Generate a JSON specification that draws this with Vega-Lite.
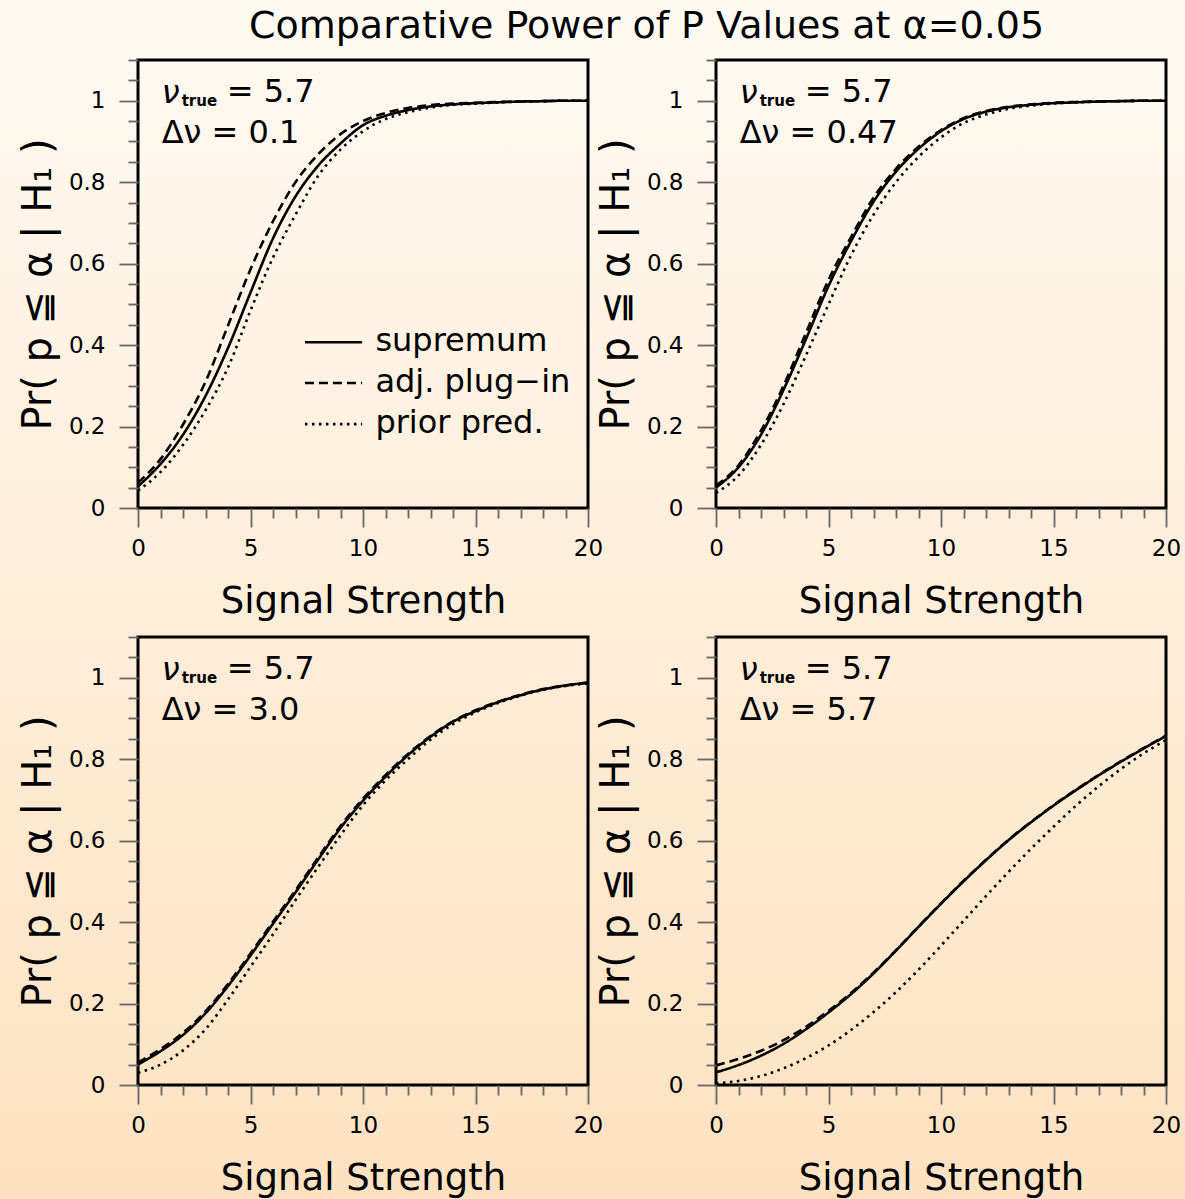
{
"$schema":"https://vega.github.io/schema/vega-lite/v6.json",
"background":"#FFFAF2",
"padding":{"left":0,"top":8,"right":0,"bottom":0},
"title":{"text":"Comparative Power of P Values at α=0.05","fontSize":38,"fontWeight":"normal","font":"DejaVu Sans","color":"#000","anchor":"middle","offset":3,"dx":49,"zindex":1},
"datasets":{
"curves":[
{"panel":"a","s":0,"sup":0.053,"adj":0.062,"pri":0.043},
{"panel":"a","s":1,"sup":0.108,"adj":0.12,"pri":0.088},
{"panel":"a","s":2,"sup":0.18,"adj":0.205,"pri":0.155},
{"panel":"a","s":3,"sup":0.275,"adj":0.31,"pri":0.24},
{"panel":"a","s":4,"sup":0.393,"adj":0.448,"pri":0.345},
{"panel":"a","s":5,"sup":0.529,"adj":0.586,"pri":0.485},
{"panel":"a","s":6,"sup":0.662,"adj":0.704,"pri":0.615},
{"panel":"a","s":7,"sup":0.765,"adj":0.8,"pri":0.72},
{"panel":"a","s":8,"sup":0.84,"adj":0.868,"pri":0.815},
{"panel":"a","s":9,"sup":0.895,"adj":0.918,"pri":0.88},
{"panel":"a","s":10,"sup":0.94,"adj":0.95,"pri":0.925},
{"panel":"a","s":11,"sup":0.963,"adj":0.97,"pri":0.955},
{"panel":"a","s":12,"sup":0.977,"adj":0.982,"pri":0.972},
{"panel":"a","s":13,"sup":0.986,"adj":0.989,"pri":0.983},
{"panel":"a","s":14,"sup":0.991,"adj":0.993,"pri":0.99},
{"panel":"a","s":15,"sup":0.994,"adj":0.995,"pri":0.993},
{"panel":"a","s":16,"sup":0.996,"adj":0.997,"pri":0.996},
{"panel":"a","s":17,"sup":0.998,"adj":0.998,"pri":0.998},
{"panel":"a","s":18,"sup":0.999,"adj":0.999,"pri":0.999},
{"panel":"a","s":19,"sup":1,"adj":1,"pri":1},
{"panel":"a","s":20,"sup":1,"adj":1,"pri":1},
{"panel":"b","s":0,"sup":0.05,"adj":0.055,"pri":0.037},
{"panel":"b","s":1,"sup":0.1,"adj":0.105,"pri":0.08},
{"panel":"b","s":2,"sup":0.18,"adj":0.19,"pri":0.155},
{"panel":"b","s":3,"sup":0.29,"adj":0.3,"pri":0.255},
{"panel":"b","s":4,"sup":0.415,"adj":0.43,"pri":0.375},
{"panel":"b","s":5,"sup":0.545,"adj":0.56,"pri":0.5},
{"panel":"b","s":6,"sup":0.655,"adj":0.665,"pri":0.62},
{"panel":"b","s":7,"sup":0.752,"adj":0.762,"pri":0.72},
{"panel":"b","s":8,"sup":0.826,"adj":0.833,"pri":0.8},
{"panel":"b","s":9,"sup":0.882,"adj":0.887,"pri":0.862},
{"panel":"b","s":10,"sup":0.925,"adj":0.928,"pri":0.91},
{"panel":"b","s":11,"sup":0.955,"adj":0.957,"pri":0.945},
{"panel":"b","s":12,"sup":0.973,"adj":0.975,"pri":0.966},
{"panel":"b","s":13,"sup":0.984,"adj":0.985,"pri":0.98},
{"panel":"b","s":14,"sup":0.99,"adj":0.991,"pri":0.988},
{"panel":"b","s":15,"sup":0.994,"adj":0.995,"pri":0.993},
{"panel":"b","s":16,"sup":0.996,"adj":0.997,"pri":0.996},
{"panel":"b","s":17,"sup":0.998,"adj":0.998,"pri":0.998},
{"panel":"b","s":18,"sup":0.999,"adj":0.999,"pri":0.999},
{"panel":"b","s":19,"sup":1,"adj":1,"pri":1},
{"panel":"b","s":20,"sup":1,"adj":1,"pri":1},
{"panel":"c","s":0,"sup":0.05,"adj":0.055,"pri":0.03},
{"panel":"c","s":1,"sup":0.083,"adj":0.088,"pri":0.05},
{"panel":"c","s":2,"sup":0.123,"adj":0.128,"pri":0.085},
{"panel":"c","s":3,"sup":0.176,"adj":0.181,"pri":0.137},
{"panel":"c","s":4,"sup":0.243,"adj":0.248,"pri":0.21},
{"panel":"c","s":5,"sup":0.318,"adj":0.323,"pri":0.29},
{"panel":"c","s":6,"sup":0.396,"adj":0.401,"pri":0.37},
{"panel":"c","s":7,"sup":0.473,"adj":0.478,"pri":0.454},
{"panel":"c","s":8,"sup":0.553,"adj":0.558,"pri":0.535},
{"panel":"c","s":9,"sup":0.631,"adj":0.636,"pri":0.613},
{"panel":"c","s":10,"sup":0.698,"adj":0.703,"pri":0.687},
{"panel":"c","s":11,"sup":0.757,"adj":0.761,"pri":0.748},
{"panel":"c","s":12,"sup":0.81,"adj":0.813,"pri":0.8},
{"panel":"c","s":13,"sup":0.855,"adj":0.857,"pri":0.848},
{"panel":"c","s":14,"sup":0.892,"adj":0.893,"pri":0.886},
{"panel":"c","s":15,"sup":0.918,"adj":0.92,"pri":0.915},
{"panel":"c","s":16,"sup":0.94,"adj":0.941,"pri":0.938},
{"panel":"c","s":17,"sup":0.957,"adj":0.958,"pri":0.956},
{"panel":"c","s":18,"sup":0.971,"adj":0.972,"pri":0.97},
{"panel":"c","s":19,"sup":0.981,"adj":0.981,"pri":0.98},
{"panel":"c","s":20,"sup":0.988,"adj":0.988,"pri":0.986},
{"panel":"d","s":0,"sup":0.031,"adj":0.048,"pri":0.004},
{"panel":"d","s":1,"sup":0.049,"adj":0.064,"pri":0.01},
{"panel":"d","s":2,"sup":0.072,"adj":0.084,"pri":0.022},
{"panel":"d","s":3,"sup":0.101,"adj":0.11,"pri":0.041},
{"panel":"d","s":4,"sup":0.137,"adj":0.143,"pri":0.066},
{"panel":"d","s":5,"sup":0.178,"adj":0.182,"pri":0.097},
{"panel":"d","s":6,"sup":0.223,"adj":0.226,"pri":0.135},
{"panel":"d","s":7,"sup":0.274,"adj":0.276,"pri":0.179},
{"panel":"d","s":8,"sup":0.33,"adj":0.331,"pri":0.228},
{"panel":"d","s":9,"sup":0.388,"adj":0.389,"pri":0.283},
{"panel":"d","s":10,"sup":0.445,"adj":0.446,"pri":0.342},
{"panel":"d","s":11,"sup":0.5,"adj":0.501,"pri":0.403},
{"panel":"d","s":12,"sup":0.552,"adj":0.553,"pri":0.464},
{"panel":"d","s":13,"sup":0.601,"adj":0.602,"pri":0.523},
{"panel":"d","s":14,"sup":0.645,"adj":0.646,"pri":0.58},
{"panel":"d","s":15,"sup":0.686,"adj":0.687,"pri":0.634},
{"panel":"d","s":16,"sup":0.724,"adj":0.725,"pri":0.686},
{"panel":"d","s":17,"sup":0.76,"adj":0.761,"pri":0.733},
{"panel":"d","s":18,"sup":0.794,"adj":0.795,"pri":0.776},
{"panel":"d","s":19,"sup":0.826,"adj":0.827,"pri":0.814},
{"panel":"d","s":20,"sup":0.857,"adj":0.858,"pri":0.847}
],
"notes":[
{"panel":"a","nu":"ν","sub":"true","eq":"= 5.7","dnu":"Δν = 0.1"},
{"panel":"b","nu":"ν","sub":"true","eq":"= 5.7","dnu":"Δν = 0.47"},
{"panel":"c","nu":"ν","sub":"true","eq":"= 5.7","dnu":"Δν = 3.0"},
{"panel":"d","nu":"ν","sub":"true","eq":"= 5.7","dnu":"Δν = 5.7"}
],
"legend":[
{"key":"sup","label":"supremum"},
{"key":"adj","label":"adj. plug−in"},
{"key":"pri","label":"prior pred."}
]
},
"data":{"name":"curves"},
"concat":[
{"width":450,"height":448,
 "resolve":{"axis":{"x":"independent","y":"independent"}},
 "layer":[
  {"data":{"name":"notes"},"transform":[{"filter":"datum.panel==='a'"}],"mark":{"type":"rect","clip":false,"zindex":0,"fill":{"gradient":"linear","x1":0,"y1":0,"x2":0,"y2":1,"stops":[{"offset":0,"color":"#FFF9F0"},{"offset":1,"color":"#FEEDD8"}]}},"encoding":{"x":{"datum":-6.1333,"axis":null},"x2":{"datum":20.622},"y":{"datum":1.1172,"axis":null},"y2":{"datum":-0.2922}}},
  {"transform":[{"filter":"datum.panel==='a'"},{"fold":["sup","adj","pri"],"as":["series","p"]}],
   "mark":{"type":"line","interpolate":"monotone","strokeWidth":2.6,"color":"#000","clip":true},
   "encoding":{
    "x":{"field":"s","type":"quantitative","scale":{"domain":[0,20],"nice":false,"zero":false},"axis":{"zindex":2,"title":"Signal Strength","values":[0,1,2,3,4,5,6,7,8,9,10,11,12,13,14,15,16,17,18,19,20],"labelExpr":"datum.value % 5 === 0 ? datum.label : ''","tickSize":{"condition":{"test":"datum.value % 5 === 0","value":19},"value":10},"labelPadding":10,"titlePadding":23,"labelOverlap":false}},
    "y":{"field":"p","type":"quantitative","scale":{"domain":[0,1.1],"nice":false},"axis":{"zindex":2,"title":"Pr( p ≦ α | H₁ )","values":[0,0.05,0.1,0.15,0.2,0.25,0.3,0.35,0.4,0.45,0.5,0.55,0.6,0.65,0.7,0.75,0.8,0.85,0.9,0.95,1,1.05,1.1],"labelExpr":"abs(datum.value*5-round(datum.value*5))<0.000001 ? format(datum.value,'~g') : ''","tickSize":{"condition":{"test":"abs(datum.value*5-round(datum.value*5))<0.000001","value":19},"value":10},"labelPadding":14,"titlePadding":10,"labelOverlap":false}},
    "strokeDash":{"field":"series","type":"nominal","scale":{"domain":["sup","adj","pri"],"range":[[1,0],[9,5],[2.5,4.5]]},"legend":null}}},
  {"data":{"name":"notes"},"transform":[{"filter":"datum.panel==='a'"}],"mark":{"type":"text","align":"left","baseline":"alphabetic","fontSize":32,"fontStyle":"italic"},"encoding":{"x":{"datum":1.05,"axis":null},"y":{"datum":0.995,"axis":null},"text":{"field":"nu"}}},
  {"data":{"name":"notes"},"transform":[{"filter":"datum.panel==='a'"}],"mark":{"type":"text","align":"left","baseline":"alphabetic","fontSize":15,"fontWeight":"bold"},"encoding":{"x":{"datum":1.94,"axis":null},"y":{"datum":0.988,"axis":null},"text":{"field":"sub"}}},
  {"data":{"name":"notes"},"transform":[{"filter":"datum.panel==='a'"}],"mark":{"type":"text","align":"left","baseline":"alphabetic","fontSize":32},"encoding":{"x":{"datum":3.94,"axis":null},"y":{"datum":0.997,"axis":null},"text":{"field":"eq"}}},
  {"data":{"name":"notes"},"transform":[{"filter":"datum.panel==='a'"}],"mark":{"type":"text","align":"left","baseline":"alphabetic","fontSize":32},"encoding":{"x":{"datum":1.05,"axis":null},"y":{"datum":0.897,"axis":null},"text":{"field":"dnu"}}},
  {"data":{"name":"legend"},"transform":[{"filter":"datum.key==='sup'"}],"mark":{"type":"rule","strokeWidth":2.6,"color":"#000"},"encoding":{"x":{"datum":7.42,"axis":null},"x2":{"datum":9.96},"y":{"datum":0.407,"axis":null},"strokeDash":{"field":"key","type":"nominal","legend":null}}},
  {"data":{"name":"legend"},"transform":[{"filter":"datum.key==='adj'"}],"mark":{"type":"rule","strokeWidth":2.6,"color":"#000"},"encoding":{"x":{"datum":7.42,"axis":null},"x2":{"datum":9.96},"y":{"datum":0.307,"axis":null},"strokeDash":{"field":"key","type":"nominal","legend":null}}},
  {"data":{"name":"legend"},"transform":[{"filter":"datum.key==='pri'"}],"mark":{"type":"rule","strokeWidth":2.6,"color":"#000"},"encoding":{"x":{"datum":7.42,"axis":null},"x2":{"datum":9.96},"y":{"datum":0.206,"axis":null},"strokeDash":{"field":"key","type":"nominal","legend":null}}},
  {"data":{"name":"legend"},"transform":[{"filter":"datum.key==='sup'"}],"mark":{"type":"text","align":"left","baseline":"middle","fontSize":32},"encoding":{"x":{"datum":10.55,"axis":null},"y":{"datum":0.41,"axis":null},"text":{"field":"label"}}},
  {"data":{"name":"legend"},"transform":[{"filter":"datum.key==='adj'"}],"mark":{"type":"text","align":"left","baseline":"middle","fontSize":32},"encoding":{"x":{"datum":10.55,"axis":null},"y":{"datum":0.31,"axis":null},"text":{"field":"label"}}},
  {"data":{"name":"legend"},"transform":[{"filter":"datum.key==='pri'"}],"mark":{"type":"text","align":"left","baseline":"middle","fontSize":32},"encoding":{"x":{"datum":10.55,"axis":null},"y":{"datum":0.209,"axis":null},"text":{"field":"label"}}},
  {"data":{"name":"notes"},"transform":[{"filter":"datum.panel==='a'"}],"mark":{"type":"rect","filled":false,"stroke":"#000","strokeWidth":3,"clip":false},"encoding":{"x":{"datum":0,"axis":null},"x2":{"datum":20},"y":{"datum":0,"axis":null},"y2":{"datum":1.1}}}
 ]},
{"width":450,"height":448,
 "resolve":{"axis":{"x":"independent","y":"independent"}},
 "layer":[
  {"data":{"name":"notes"},"transform":[{"filter":"datum.panel==='b'"}],"mark":{"type":"rect","clip":false,"zindex":0,"fill":{"gradient":"linear","x1":0,"y1":0,"x2":0,"y2":1,"stops":[{"offset":0,"color":"#FFF9F0"},{"offset":1,"color":"#FEEDD8"}]}},"encoding":{"x":{"datum":-5.0667,"axis":null},"x2":{"datum":21.29},"y":{"datum":1.1172,"axis":null},"y2":{"datum":-0.2922}}},
  {"transform":[{"filter":"datum.panel==='b'"},{"fold":["sup","adj","pri"],"as":["series","p"]}],
   "mark":{"type":"line","interpolate":"monotone","strokeWidth":2.6,"color":"#000","clip":true},
   "encoding":{
    "x":{"field":"s","type":"quantitative","scale":{"domain":[0,20],"nice":false,"zero":false},"axis":{"zindex":2,"title":"Signal Strength","values":[0,1,2,3,4,5,6,7,8,9,10,11,12,13,14,15,16,17,18,19,20],"labelExpr":"datum.value % 5 === 0 ? datum.label : ''","tickSize":{"condition":{"test":"datum.value % 5 === 0","value":19},"value":10},"labelPadding":10,"titlePadding":23,"labelOverlap":false}},
    "y":{"field":"p","type":"quantitative","scale":{"domain":[0,1.1],"nice":false},"axis":{"zindex":2,"title":"Pr( p ≦ α | H₁ )","values":[0,0.05,0.1,0.15,0.2,0.25,0.3,0.35,0.4,0.45,0.5,0.55,0.6,0.65,0.7,0.75,0.8,0.85,0.9,0.95,1,1.05,1.1],"labelExpr":"abs(datum.value*5-round(datum.value*5))<0.000001 ? format(datum.value,'~g') : ''","tickSize":{"condition":{"test":"abs(datum.value*5-round(datum.value*5))<0.000001","value":19},"value":10},"labelPadding":14,"titlePadding":10,"labelOverlap":false}},
    "strokeDash":{"field":"series","type":"nominal","scale":{"domain":["sup","adj","pri"],"range":[[1,0],[9,5],[2.5,4.5]]},"legend":null}}},
  {"data":{"name":"notes"},"transform":[{"filter":"datum.panel==='b'"}],"mark":{"type":"text","align":"left","baseline":"alphabetic","fontSize":32,"fontStyle":"italic"},"encoding":{"x":{"datum":1.05,"axis":null},"y":{"datum":0.995,"axis":null},"text":{"field":"nu"}}},
  {"data":{"name":"notes"},"transform":[{"filter":"datum.panel==='b'"}],"mark":{"type":"text","align":"left","baseline":"alphabetic","fontSize":15,"fontWeight":"bold"},"encoding":{"x":{"datum":1.94,"axis":null},"y":{"datum":0.988,"axis":null},"text":{"field":"sub"}}},
  {"data":{"name":"notes"},"transform":[{"filter":"datum.panel==='b'"}],"mark":{"type":"text","align":"left","baseline":"alphabetic","fontSize":32},"encoding":{"x":{"datum":3.94,"axis":null},"y":{"datum":0.997,"axis":null},"text":{"field":"eq"}}},
  {"data":{"name":"notes"},"transform":[{"filter":"datum.panel==='b'"}],"mark":{"type":"text","align":"left","baseline":"alphabetic","fontSize":32},"encoding":{"x":{"datum":1.05,"axis":null},"y":{"datum":0.897,"axis":null},"text":{"field":"dnu"}}},
  {"data":{"name":"notes"},"transform":[{"filter":"datum.panel==='b'"}],"mark":{"type":"rect","filled":false,"stroke":"#000","strokeWidth":3,"clip":false},"encoding":{"x":{"datum":0,"axis":null},"x2":{"datum":20},"y":{"datum":0,"axis":null},"y2":{"datum":1.1}}}
 ]},
{"width":450,"height":448,
 "resolve":{"axis":{"x":"independent","y":"independent"}},
 "layer":[
  {"data":{"name":"notes"},"transform":[{"filter":"datum.panel==='c'"}],"mark":{"type":"rect","clip":false,"zindex":0,"fill":{"gradient":"linear","x1":0,"y1":0,"x2":0,"y2":1,"stops":[{"offset":0,"color":"#FEEDD8"},{"offset":1,"color":"#FDE2C1"}]}},"encoding":{"x":{"datum":-6.1333,"axis":null},"x2":{"datum":20.622},"y":{"datum":1.1246,"axis":null},"y2":{"datum":-0.3094}}},
  {"transform":[{"filter":"datum.panel==='c'"},{"fold":["sup","adj","pri"],"as":["series","p"]}],
   "mark":{"type":"line","interpolate":"monotone","strokeWidth":2.6,"color":"#000","clip":true},
   "encoding":{
    "x":{"field":"s","type":"quantitative","scale":{"domain":[0,20],"nice":false,"zero":false},"axis":{"zindex":2,"title":"Signal Strength","values":[0,1,2,3,4,5,6,7,8,9,10,11,12,13,14,15,16,17,18,19,20],"labelExpr":"datum.value % 5 === 0 ? datum.label : ''","tickSize":{"condition":{"test":"datum.value % 5 === 0","value":19},"value":10},"labelPadding":10,"titlePadding":23,"labelOverlap":false}},
    "y":{"field":"p","type":"quantitative","scale":{"domain":[0,1.1],"nice":false},"axis":{"zindex":2,"title":"Pr( p ≦ α | H₁ )","values":[0,0.05,0.1,0.15,0.2,0.25,0.3,0.35,0.4,0.45,0.5,0.55,0.6,0.65,0.7,0.75,0.8,0.85,0.9,0.95,1,1.05,1.1],"labelExpr":"abs(datum.value*5-round(datum.value*5))<0.000001 ? format(datum.value,'~g') : ''","tickSize":{"condition":{"test":"abs(datum.value*5-round(datum.value*5))<0.000001","value":19},"value":10},"labelPadding":14,"titlePadding":10,"labelOverlap":false}},
    "strokeDash":{"field":"series","type":"nominal","scale":{"domain":["sup","adj","pri"],"range":[[1,0],[9,5],[2.5,4.5]]},"legend":null}}},
  {"data":{"name":"notes"},"transform":[{"filter":"datum.panel==='c'"}],"mark":{"type":"text","align":"left","baseline":"alphabetic","fontSize":32,"fontStyle":"italic"},"encoding":{"x":{"datum":1.05,"axis":null},"y":{"datum":0.995,"axis":null},"text":{"field":"nu"}}},
  {"data":{"name":"notes"},"transform":[{"filter":"datum.panel==='c'"}],"mark":{"type":"text","align":"left","baseline":"alphabetic","fontSize":15,"fontWeight":"bold"},"encoding":{"x":{"datum":1.94,"axis":null},"y":{"datum":0.988,"axis":null},"text":{"field":"sub"}}},
  {"data":{"name":"notes"},"transform":[{"filter":"datum.panel==='c'"}],"mark":{"type":"text","align":"left","baseline":"alphabetic","fontSize":32},"encoding":{"x":{"datum":3.94,"axis":null},"y":{"datum":0.997,"axis":null},"text":{"field":"eq"}}},
  {"data":{"name":"notes"},"transform":[{"filter":"datum.panel==='c'"}],"mark":{"type":"text","align":"left","baseline":"alphabetic","fontSize":32},"encoding":{"x":{"datum":1.05,"axis":null},"y":{"datum":0.897,"axis":null},"text":{"field":"dnu"}}},
  {"data":{"name":"notes"},"transform":[{"filter":"datum.panel==='c'"}],"mark":{"type":"rect","filled":false,"stroke":"#000","strokeWidth":3,"clip":false},"encoding":{"x":{"datum":0,"axis":null},"x2":{"datum":20},"y":{"datum":0,"axis":null},"y2":{"datum":1.1}}}
 ]},
{"width":450,"height":448,
 "resolve":{"axis":{"x":"independent","y":"independent"}},
 "layer":[
  {"data":{"name":"notes"},"transform":[{"filter":"datum.panel==='d'"}],"mark":{"type":"rect","clip":false,"zindex":0,"fill":{"gradient":"linear","x1":0,"y1":0,"x2":0,"y2":1,"stops":[{"offset":0,"color":"#FEEDD8"},{"offset":1,"color":"#FDE2C1"}]}},"encoding":{"x":{"datum":-5.0667,"axis":null},"x2":{"datum":21.29},"y":{"datum":1.1246,"axis":null},"y2":{"datum":-0.3094}}},
  {"transform":[{"filter":"datum.panel==='d'"},{"fold":["sup","adj","pri"],"as":["series","p"]}],
   "mark":{"type":"line","interpolate":"monotone","strokeWidth":2.6,"color":"#000","clip":true},
   "encoding":{
    "x":{"field":"s","type":"quantitative","scale":{"domain":[0,20],"nice":false,"zero":false},"axis":{"zindex":2,"title":"Signal Strength","values":[0,1,2,3,4,5,6,7,8,9,10,11,12,13,14,15,16,17,18,19,20],"labelExpr":"datum.value % 5 === 0 ? datum.label : ''","tickSize":{"condition":{"test":"datum.value % 5 === 0","value":19},"value":10},"labelPadding":10,"titlePadding":23,"labelOverlap":false}},
    "y":{"field":"p","type":"quantitative","scale":{"domain":[0,1.1],"nice":false},"axis":{"zindex":2,"title":"Pr( p ≦ α | H₁ )","values":[0,0.05,0.1,0.15,0.2,0.25,0.3,0.35,0.4,0.45,0.5,0.55,0.6,0.65,0.7,0.75,0.8,0.85,0.9,0.95,1,1.05,1.1],"labelExpr":"abs(datum.value*5-round(datum.value*5))<0.000001 ? format(datum.value,'~g') : ''","tickSize":{"condition":{"test":"abs(datum.value*5-round(datum.value*5))<0.000001","value":19},"value":10},"labelPadding":14,"titlePadding":10,"labelOverlap":false}},
    "strokeDash":{"field":"series","type":"nominal","scale":{"domain":["sup","adj","pri"],"range":[[1,0],[9,5],[2.5,4.5]]},"legend":null}}},
  {"data":{"name":"notes"},"transform":[{"filter":"datum.panel==='d'"}],"mark":{"type":"text","align":"left","baseline":"alphabetic","fontSize":32,"fontStyle":"italic"},"encoding":{"x":{"datum":1.05,"axis":null},"y":{"datum":0.995,"axis":null},"text":{"field":"nu"}}},
  {"data":{"name":"notes"},"transform":[{"filter":"datum.panel==='d'"}],"mark":{"type":"text","align":"left","baseline":"alphabetic","fontSize":15,"fontWeight":"bold"},"encoding":{"x":{"datum":1.94,"axis":null},"y":{"datum":0.988,"axis":null},"text":{"field":"sub"}}},
  {"data":{"name":"notes"},"transform":[{"filter":"datum.panel==='d'"}],"mark":{"type":"text","align":"left","baseline":"alphabetic","fontSize":32},"encoding":{"x":{"datum":3.94,"axis":null},"y":{"datum":0.997,"axis":null},"text":{"field":"eq"}}},
  {"data":{"name":"notes"},"transform":[{"filter":"datum.panel==='d'"}],"mark":{"type":"text","align":"left","baseline":"alphabetic","fontSize":32},"encoding":{"x":{"datum":1.05,"axis":null},"y":{"datum":0.897,"axis":null},"text":{"field":"dnu"}}},
  {"data":{"name":"notes"},"transform":[{"filter":"datum.panel==='d'"}],"mark":{"type":"rect","filled":false,"stroke":"#000","strokeWidth":3,"clip":false},"encoding":{"x":{"datum":0,"axis":null},"x2":{"datum":20},"y":{"datum":0,"axis":null},"y2":{"datum":1.1}}}
 ]}
],
"columns":2,
"spacing":{"row":129,"column":128},
"bounds":"flush",
"config":{
 "font":"DejaVu Sans",
 "axis":{"labelFont":"DejaVu Sans","labelFontSize":23,"labelColor":"#000","labelFlush":false,"titleFont":"DejaVu Sans","titleFontSize":37,"titleFontWeight":"normal","titleColor":"#000","domain":false,"grid":false,"tickColor":"#666","tickWidth":1.8},
 "axisY":{"titleFontSize":40},
 "text":{"font":"DejaVu Sans","color":"#000"},
 "view":{"stroke":null,"fill":null}
}
}
